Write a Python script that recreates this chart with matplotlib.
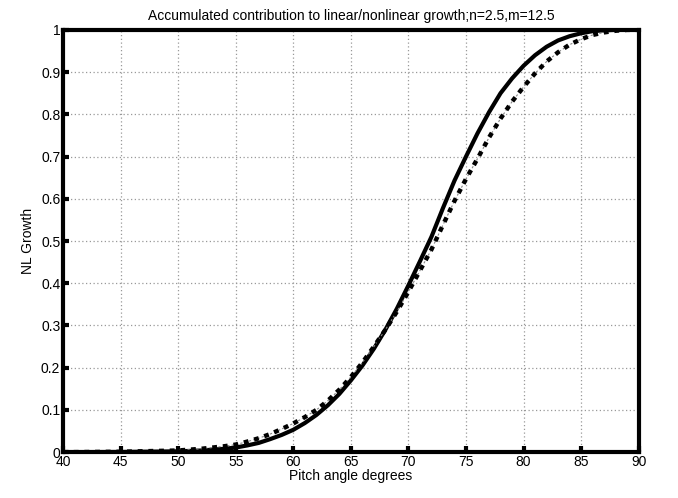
"""
Accumulated contribution to linear/nonlinear growth vs pitch angle
"""
import numpy as np
import matplotlib
matplotlib.use('Agg')
import matplotlib.pyplot as plt

plt.rcParams['font.family'] = ['Liberation Sans', 'DejaVu Sans']

# pitch angle (degrees)
pitch = [40, 45, 50, 52, 54, 55, 56, 57, 58, 59, 60, 61, 62, 63, 64, 65,
         66, 67, 68, 69, 70, 71, 72, 73, 74, 75, 76, 77, 78, 79, 80, 81,
         82, 83, 84, 85, 86, 87, 88, 89, 90]
# solid curve
growth_a = [0.0, 0.0005, 0.002, 0.004, 0.008, 0.011, 0.016, 0.022, 0.031,
            0.041, 0.053, 0.069, 0.088, 0.111, 0.138, 0.170, 0.205, 0.245,
            0.29, 0.34, 0.395, 0.452, 0.51, 0.578, 0.643, 0.70, 0.755,
            0.805, 0.85, 0.885, 0.915, 0.94, 0.96, 0.975, 0.985, 0.992,
            0.997, 0.999, 1.0, 1.0, 1.0]
# dash-dot curve
growth_b = [0.0, 0.001, 0.004, 0.008, 0.014, 0.018, 0.025, 0.033, 0.043,
            0.055, 0.068, 0.083, 0.10, 0.122, 0.148, 0.178, 0.212, 0.25,
            0.29, 0.333, 0.38, 0.43, 0.48, 0.538, 0.595, 0.647, 0.695,
            0.745, 0.79, 0.83, 0.865, 0.897, 0.925, 0.947, 0.965, 0.978,
            0.988, 0.994, 0.998, 1.0, 1.0]

xticks = np.arange(40, 91, 5)
yticks = np.round(np.arange(0, 1.01, 0.1), 1)
ytick_labels = ['0'] + ['%.1f' % v for v in yticks[1:-1]] + ['1']

fig = plt.figure(figsize=(6.78, 4.98), dpi=100)
ax = fig.add_axes([0.093, 0.092, 0.849, 0.848])

ax.plot(pitch, growth_a, color='black', lw=3.0, solid_capstyle='butt')
ax.plot(pitch, growth_b, color='#888888', lw=0.8, dashes=(2, 2))
ax.plot(pitch, growth_b, color='black', lw=3.2, dashes=(1.1, 1.3),
        dash_capstyle='butt')

ax.set_xlim(40, 90)
ax.set_ylim(0, 1)
ax.set_xticks(xticks)
ax.set_yticks(yticks)
ax.set_yticklabels(ytick_labels)
ax.grid(True, color='#999999', linestyle=(0, (1, 2)), linewidth=0.9)
ax.tick_params(direction='in', length=4, width=3, labelsize=10, pad=2)
for s in ax.spines.values():
    s.set_linewidth(3)

ax.set_xlabel('Pitch angle degrees', fontsize=10, labelpad=0)
ax.set_ylabel('NL Growth', fontsize=10, labelpad=4)
ax.set_title('Accumulated contribution to linear/nonlinear growth;n=2.5,m=12.5',
             fontsize=10, pad=7)

fig.savefig('out.png', dpi=100)
